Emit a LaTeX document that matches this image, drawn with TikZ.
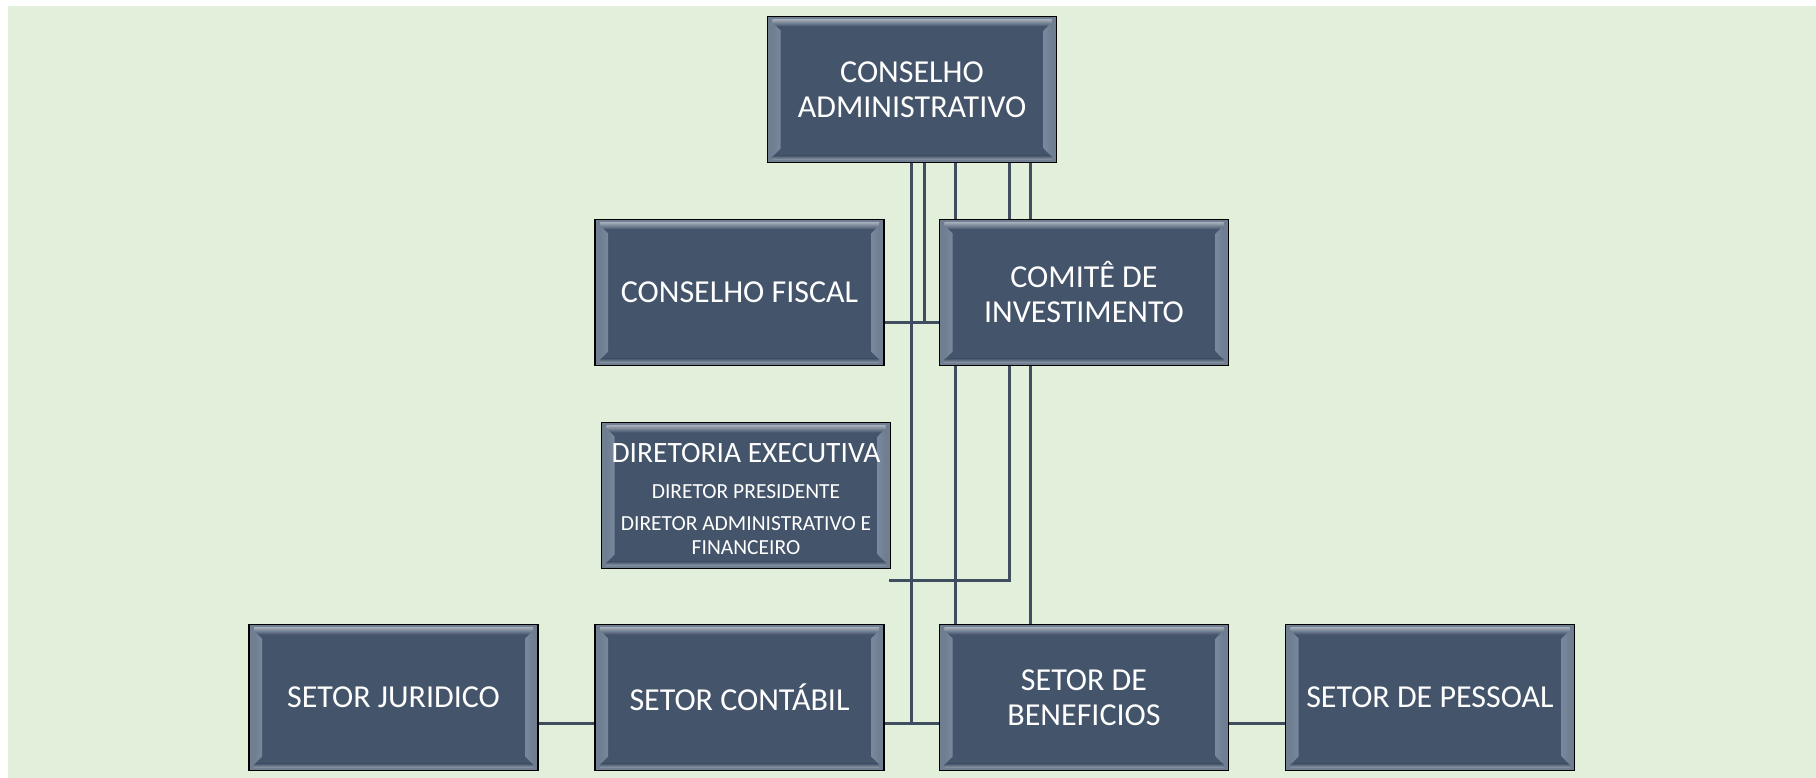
\documentclass[tikz,border=0pt]{standalone}
\usepackage{fontspec}
\setmainfont{Carlito}
\usetikzlibrary{backgrounds}

\begin{document}
\begin{tikzpicture}[x=1pt,y=-1pt,
  orgbox/.style={draw=black,line width=1.4pt,fill=boxfill,text=white,
    minimum width=289pt,minimum height=146pt,inner sep=0pt,align=center,
    font=\fontsize{32}{35}\selectfont,
    path picture={
      \coordinate (nw) at (path picture bounding box.north west);
      \coordinate (ne) at (path picture bounding box.north east);
      \coordinate (sw) at (path picture bounding box.south west);
      \coordinate (se) at (path picture bounding box.south east);
      \fill[bevelband] (nw) rectangle (se);
      \shade[top color=bevelband!65!white,bottom color=boxfill] ([xshift=5pt,yshift=-3pt]nw) rectangle ([xshift=-5pt,yshift=-10pt]ne);
      \fill[boxfill] ([xshift=6pt,yshift=-10pt]nw) rectangle ([xshift=-6pt,yshift=7pt]se);
      \shade[top color=boxfill,bottom color=bevelband!80!white] ([xshift=5pt,yshift=7pt]sw) rectangle ([xshift=-5pt,yshift=3pt]se);
      \shade[left color=bevelband,middle color=bevellight,right color=boxfill!60!bevellight] ([xshift=5pt,yshift=-6pt]nw) -- ([xshift=13pt,yshift=-14pt]nw) -- ([xshift=13pt,yshift=14pt]sw) -- ([xshift=5pt,yshift=6pt]sw) -- cycle;
      \shade[left color=boxfill!60!bevellight,middle color=bevellight,right color=bevelband] ([xshift=-5pt,yshift=-6pt]ne) -- ([xshift=-13pt,yshift=-14pt]ne) -- ([xshift=-13pt,yshift=14pt]se) -- ([xshift=-5pt,yshift=6pt]se) -- cycle;
    }},
  conn/.style={draw=linecol,line width=3pt}]
% Define chart colours
\definecolor{bggreen}{RGB}{226,239,218}
\definecolor{boxfill}{RGB}{68,84,106}
\definecolor{bevelband}{RGB}{112,126,145}
\definecolor{bevellight}{RGB}{200,214,236}
\definecolor{linecol}{RGB}{63,77,95}

\useasboundingbox (0,0) rectangle (1816,778);

% Draw page background
\begin{pgfonlayer}{background}
\fill[white] (0,0) rectangle (1816,778);
\fill[bggreen] (8,6) rectangle (1816,778);
\end{pgfonlayer}

% Draw boards
\node[orgbox] (ca) at (912,89.5) {CONSELHO\\ADMINISTRATIVO};
\node[orgbox] (cf) at (739.5,292.5) {CONSELHO FISCAL};
\node[orgbox] (ci) at (1084,292.5) {COMITÊ DE\\INVESTIMENTO};
\node[orgbox,text width=287pt,align=flush center,font=\fontsize{21.5}{24}\selectfont] (de) at (746,495.5)
  {\rule{0pt}{26pt}{\fontsize{29.5}{34}\selectfont DIRETORIA EXECUTIVA}\\[12pt]DIRETOR PRESIDENTE\\[8pt]DIRETOR ADMINISTRATIVO E\\FINANCEIRO};

% Draw sectors
\node[orgbox] (sj) at (393.5,697.5) {SETOR JURIDICO};
\node[orgbox] (sc) at (739.5,697.5) {SETOR CONTÁBIL};
\node[orgbox] (sb) at (1084,697.5) {SETOR DE\\BENEFICIOS};
\node[orgbox] (sp) at (1430,697.5) {SETOR DE PESSOAL};

% Draw connectors behind the boxes
\begin{pgfonlayer}{background}
\coordinate (ca1) at ([xshift=-1pt]ca.south);
\coordinate (ca2) at ([xshift=12pt]ca.south);
\coordinate (ca3) at ([xshift=43pt]ca.south);
\coordinate (ca4) at ([xshift=97pt]ca.south);
\coordinate (ca5) at ([xshift=118pt]ca.south);
\coordinate (deend) at ([xshift=-2pt,yshift=-11pt]de.south east);
\draw[conn] (ca1) |- ([yshift=-26pt]sc.east);
\draw[conn] (ca1) |- ([yshift=-26pt]sb.west);
\draw[conn] (ca2) |- ([yshift=-30pt]cf.east);
\draw[conn] (ca2) |- ([yshift=-30pt]ci.west);
\draw[conn] (ca3) -- (ca3 |- sb.north);
\draw[conn] (ca4) |- (deend);
\draw[conn] (ca5) -- (ca5 |- sb.north);
\draw[conn] ([yshift=-26pt]sj.east) -- ([yshift=-26pt]sc.west);
\draw[conn] ([yshift=-26pt]sb.east) -- ([yshift=-26pt]sp.west);
\end{pgfonlayer}
\end{tikzpicture}
\end{document}
